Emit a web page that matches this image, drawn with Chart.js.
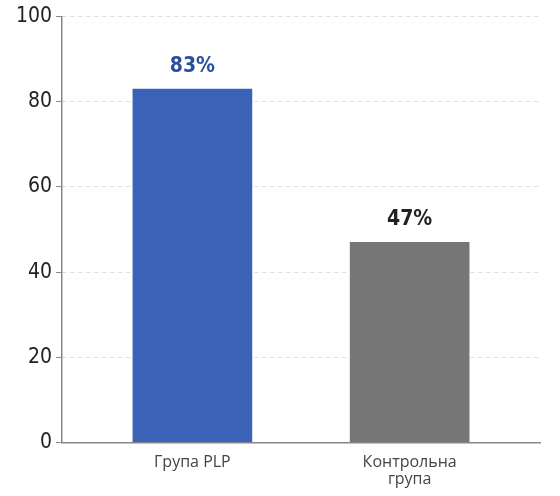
<!DOCTYPE html><html><head><meta charset="utf-8">
<script src="https://cdn.jsdelivr.net/npm/chart.js@4"></script>
<style>html,body{margin:0;background:#fff}#w{width:560px;height:496px}</style></head><body>
<div id="w"><canvas id="c"></canvas></div>
<script>
const categories=[["Група PLP"],["Контрольна","група"]];
const values=[83,47];
const valueLabels=["83%","47%"];
const yTicks=[0,20,40,60,80,100];
const colors=["#3a63b8","#767676"];
const labelColors=["#2b4f9e","#222222"];
const pts=values.map((v,i)=>({x:i,y:v}));
const lbl={id:'lbl',afterDatasetsDraw(ch){const c=ch.ctx;ch.getDatasetMeta(0).data.forEach((b,i)=>{c.save();c.font='bold 21px "Liberation Sans Narrow","DejaVu Sans Condensed",sans-serif';c.fillStyle=labelColors[i];c.textAlign='center';c.textBaseline='bottom';c.fillText(valueLabels[i],b.x,b.y-12);c.restore();});}};
new Chart(document.getElementById('c'),{type:'bar',data:{datasets:[{data:pts,backgroundColor:colors,barThickness:119,grouped:false}]},
options:{responsive:true,maintainAspectRatio:false,animation:false,
layout:{padding:{top:16,right:20,bottom:4,left:12}},
plugins:{legend:{display:false},tooltip:{enabled:false}},
scales:{x:{type:'linear',offset:false,min:-0.6,max:1.6,grid:{display:false,offset:false},border:{color:'#888',width:1.5},
 afterBuildTicks(s){s.ticks=[{value:0},{value:1}];},
 ticks:{autoSkip:false,maxRotation:0,color:'#444',font:{size:16,family:'"Open Sans",sans-serif',lineHeight:1.05},padding:4,callback:v=>categories[v]}},
y:{min:0,max:100,afterBuildTicks(s){s.ticks=yTicks.map(v=>({value:v}));},
 grid:{color:'#dddddd',drawTicks:true,tickLength:6,tickColor:'#888',tickBorderDash:[0,0]},border:{dash:[4,4],color:'#888',width:1.5},
 ticks:{color:'#222',font:{size:21,family:'"Liberation Sans Narrow","DejaVu Sans Condensed",sans-serif'},padding:4}}}},
plugins:[lbl]});
</script></body></html>
